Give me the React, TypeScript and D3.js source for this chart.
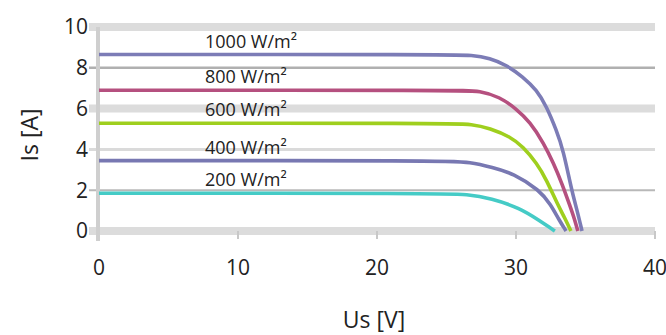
import React, { useEffect, useRef } from 'react'
import * as d3 from 'd3'

// I-V curves of a solar module at different irradiance levels
const irradiance = [1000, 800, 600, 400, 200]
const colors = ['#7c7cb6', '#b5507f', '#9fcf1e', '#7878b2', '#45cbc6']

const volts1000 = [0, 25, 26.9, 28.1, 29.3, 30.5, 31.5, 32.2, 32.9, 33.4, 34.0, 34.4, 34.75]
const amps1000 = [8.65, 8.65, 8.62, 8.47, 8.14, 7.56, 6.9, 6.1, 4.95, 3.97, 2.0, 1.0, 0]
const volts800 = [0, 26, 27.4, 28.8, 30.0, 31.0, 32.0, 32.7, 33.3, 33.9, 34.2, 34.45]
const amps800 = [6.9, 6.9, 6.87, 6.58, 6.0, 5.35, 4.3, 3.32, 2.34, 1.2, 0.6, 0]
const volts600 = [0, 25, 26.9, 28.1, 29.6, 30.5, 31.5, 32.2, 32.95, 33.5, 33.95]
const amps600 = [5.28, 5.28, 5.24, 5.03, 4.62, 4.13, 3.32, 2.5, 1.36, 0.65, 0]
const volts400 = [0, 25, 26.7, 28.3, 29.8, 31.7, 32.5, 33.1, 33.6]
const amps400 = [3.45, 3.45, 3.38, 3.12, 2.83, 2.0, 1.3, 0.54, 0]
const volts200 = [0, 24.5, 26.5, 28.2, 30.3, 31.7, 32.4, 32.8]
const amps200 = [1.85, 1.85, 1.8, 1.6, 1.12, 0.5, 0.18, 0]

const xTicks = [0, 10, 20, 30, 40]
const yTicks = [0, 2, 4, 6, 8, 10]

const series = [
    { v: volts1000, i: amps1000 },
    { v: volts800, i: amps800 },
    { v: volts600, i: amps600 },
    { v: volts400, i: amps400 },
    { v: volts200, i: amps200 },
]

const W = 666
const H = 335
const margin = { top: 27, right: 11, bottom: 104, left: 99 }
const FONT = '"Open Sans", sans-serif'

// gridline look per y tick (the reference alternates thick pale bands and thin lines)
const gridStyle: { [k: number]: { w: number; c: string } } = {
    0: { w: 8, c: '#dcdcdc' },
    2: { w: 2, c: '#b8b8b8' },
    4: { w: 3, c: '#dadada' },
    6: { w: 8, c: '#dcdcdc' },
    8: { w: 2.5, c: '#b0b0b0' },
    10: { w: 8, c: '#dcdcdc' },
}

export default function App() {
    const ref = useRef<SVGSVGElement>(null)

    useEffect(() => {
        const svg = d3.select(ref.current)
        svg.selectAll('*').remove()

        const width = W - margin.left - margin.right
        const height = H - margin.top - margin.bottom

        const x = d3.scaleLinear().domain([0, 40]).range([0, width])
        const y = d3.scaleLinear().domain([0, 10]).range([height, 0])

        const g = svg.append('g')
            .attr('transform', `translate(${margin.left},${margin.top})`)

        // horizontal grid
        g.append('g')
            .selectAll('line')
            .data(yTicks)
            .enter()
            .append('line')
            .attr('x1', -10)
            .attr('x2', width)
            .attr('y1', d => y(d))
            .attr('y2', d => y(d))
            .attr('stroke', d => gridStyle[d].c)
            .attr('stroke-width', d => gridStyle[d].w)

        // y axis line
        g.append('line')
            .attr('x1', -1).attr('x2', -1)
            .attr('y1', y(10)).attr('y2', y(0) + 10)
            .attr('stroke', '#cfcfcf')
            .attr('stroke-width', 4)

        // small x ticks
        g.append('g')
            .selectAll('line')
            .data(xTicks.slice(1))
            .enter()
            .append('line')
            .attr('x1', d => x(d)).attr('x2', d => x(d))
            .attr('y1', y(0)).attr('y2', y(0) + 8)
            .attr('stroke', '#c8c8c8')
            .attr('stroke-width', 2)

        // y tick labels
        g.append('g')
            .selectAll('text')
            .data(yTicks)
            .enter()
            .append('text')
            .attr('x', -11)
            .attr('y', d => y(d))
            .attr('dy', '0.35em')
            .attr('text-anchor', 'end')
            .attr('font-family', FONT)
            .attr('font-size', 21)
            .attr('fill', '#222')
            .text(d => d)

        // x tick labels
        g.append('g')
            .selectAll('text')
            .data(xTicks)
            .enter()
            .append('text')
            .attr('x', d => x(d))
            .attr('y', y(0) + 44)
            .attr('text-anchor', 'middle')
            .attr('font-family', FONT)
            .attr('font-size', 21)
            .attr('fill', '#222')
            .text(d => d)

        // curves
        const line = d3.line<[number, number]>()
            .x(d => x(d[0]))
            .y(d => y(d[1]))
            .curve(d3.curveBasis)

        series.forEach((s, k) => {
            const pts: [number, number][] = s.v.map((v, j) => [v, s.i[j]])
            g.append('path')
                .attr('d', line(pts))
                .attr('fill', 'none')
                .attr('stroke', colors[k])
                .attr('stroke-width', 3.6)
        })

        // irradiance labels
        g.append('g')
            .selectAll('text')
            .data(irradiance)
            .enter()
            .append('text')
            .attr('x', 106)
            .attr('y', (d, k) => y(series[k].i[0]) - 7)
            .attr('font-family', FONT)
            .attr('font-size', 18)
            .attr('fill', '#222')
            .text(d => `${d} W/m²`)

        // axis titles
        svg.append('text')
            .attr('transform', `translate(38,${margin.top + height / 2 + 6}) rotate(-90)`)
            .attr('text-anchor', 'middle')
            .attr('font-family', FONT)
            .attr('font-size', 23)
            .attr('fill', '#222')
            .text('Is [A]')

        svg.append('text')
            .attr('x', margin.left + width / 2 - 3)
            .attr('y', 328)
            .attr('text-anchor', 'middle')
            .attr('font-family', FONT)
            .attr('font-size', 23)
            .attr('fill', '#222')
            .text('Us [V]')
    }, [])

    return (
        <svg
            ref={ref}
            width={W}
            height={H}
            style={{ position: 'absolute', left: 0, top: 0, background: '#fff' }}
        />
    )
}
